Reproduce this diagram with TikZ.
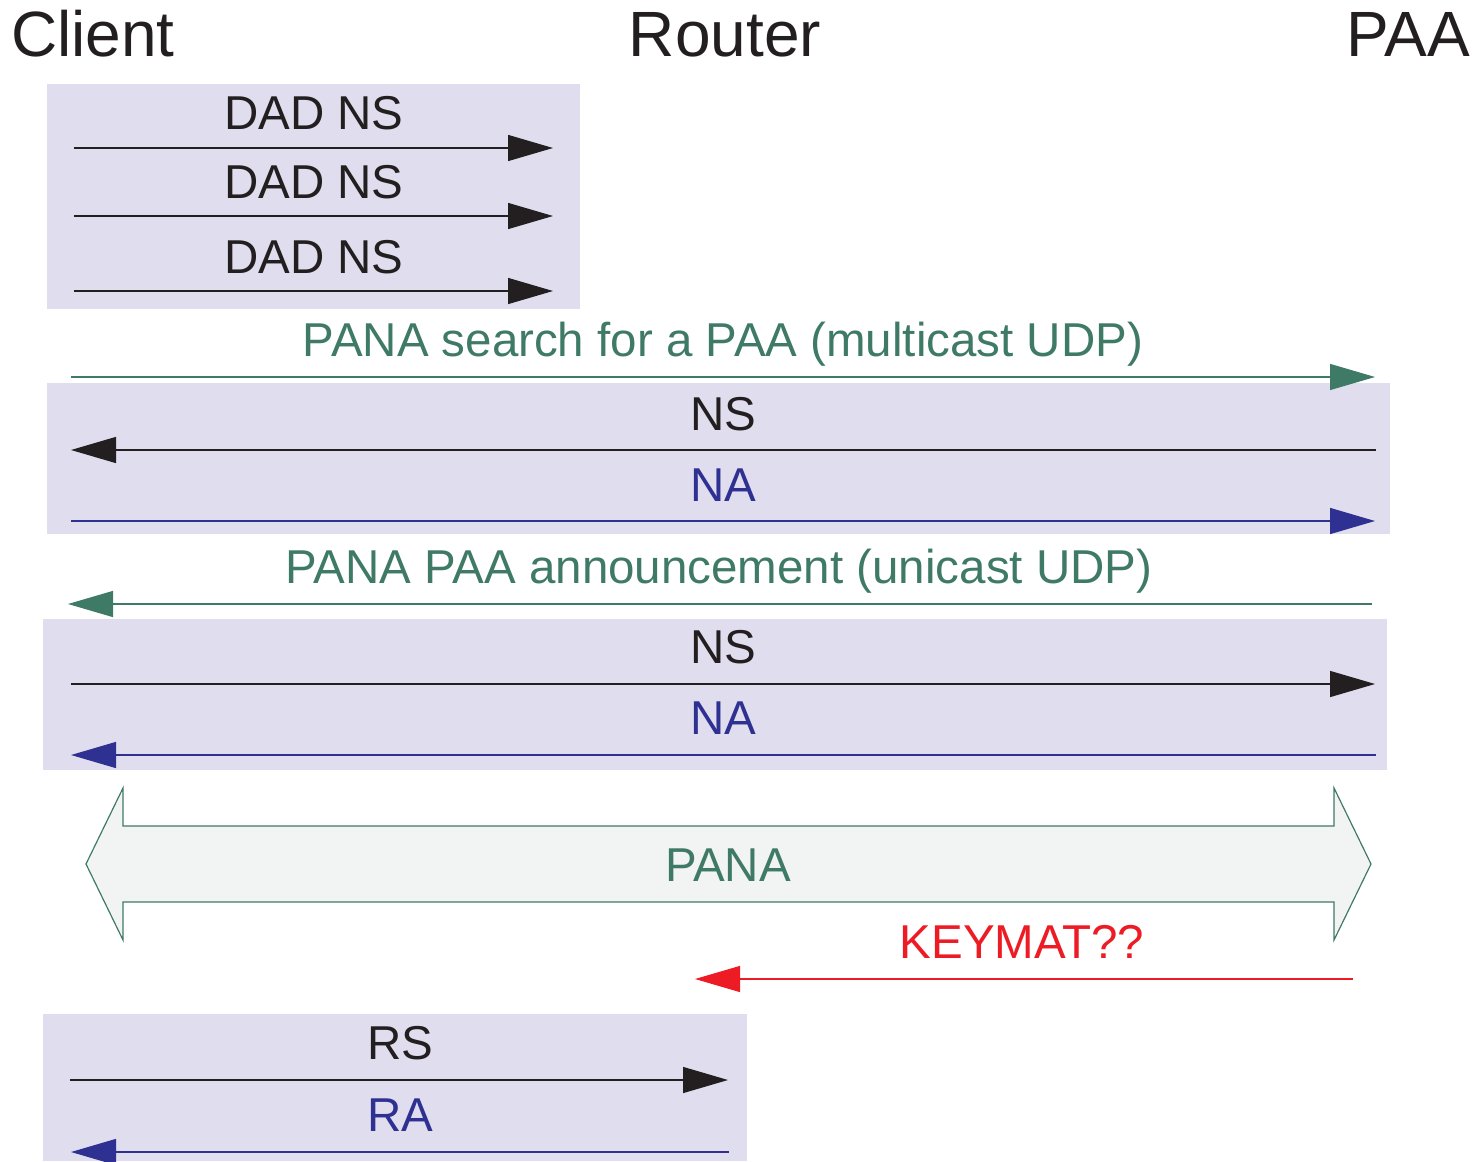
\documentclass[tikz,border=0pt]{standalone}
\usepackage{fontspec}
\setmainfont{Liberation Sans}
\usetikzlibrary{arrows.meta}
\definecolor{boxfill}{HTML}{E0DEEE}
\definecolor{ink}{HTML}{231F20}
\definecolor{pgreen}{HTML}{3F7A66}
\definecolor{pblue}{HTML}{2E3192}
\definecolor{pred}{HTML}{ED1C24}
\definecolor{panafill}{HTML}{F2F4F3}
\tikzset{
  group/.style={fill=boxfill, draw=none},
  msg/.style={line width=1.4pt, -{Triangle[length=45pt,width=26pt]}},
  lbl/.style={anchor=base, inner sep=0pt, font=\fontsize{47.5}{52}\selectfont},
  ttl/.style={anchor=base, inner sep=0pt, font=\fontsize{64}{68}\selectfont, text=ink},
}
\begin{document}
\begin{tikzpicture}[x=1pt, y=-1pt]
\useasboundingbox (0,0) rectangle (1479,1161);

% entity headers
\node[ttl, anchor=base west] (client) at (11,57) {Client};
\node[ttl] (router) at (725,57) {Router};
\node[ttl, anchor=base east] (paa) at (1470,57) {PAA};

% grouped exchanges
\fill[group] (47,84) rectangle (580,309);
\fill[group] (47,383) rectangle (1390,534);
\fill[group] (43,619) rectangle (1387,770);
\fill[group] (43,1014) rectangle (747,1161);

% duplicate address detection
\coordinate (d1a) at (74,148); \coordinate (d1b) at (553,148);
\coordinate (d2a) at (74,216); \coordinate (d2b) at (553,216);
\coordinate (d3a) at (74,291); \coordinate (d3b) at (553,291);
\draw[msg, ink] (d1a) -- (d1b);
\draw[msg, ink] (d2a) -- (d2b);
\draw[msg, ink] (d3a) -- (d3b);
\node[lbl, text=ink] (l1) at (314,130) {DAD NS};
\node[lbl, text=ink] (l2) at (314,198) {DAD NS};
\node[lbl, text=ink] (l3) at (314,273) {DAD NS};

% PAA discovery
\coordinate (s1a) at (71,377); \coordinate (s1b) at (1375,377);
\draw[msg, draw=pgreen, fill=pgreen, line width=1.2pt] (s1a) -- (s1b);
\node[lbl, text=pgreen] (l4) at (723,356) {PANA search for a PAA (multicast UDP)};

\coordinate (n1a) at (1376,450); \coordinate (n1b) at (71,450);
\draw[msg, ink] (n1a) -- (n1b);
\node[lbl, text=ink] (l5) at (723,430) {NS};
\coordinate (a1a) at (71,521); \coordinate (a1b) at (1375,521);
\draw[msg, pblue] (a1a) -- (a1b);
\node[lbl, text=pblue] (l6) at (723,501) {NA};

\coordinate (s2a) at (1372,604); \coordinate (s2b) at (68,604);
\draw[msg, draw=pgreen, fill=pgreen, line width=1.2pt] (s2a) -- (s2b);
\node[lbl, text=pgreen] (l7) at (719,583) {PANA PAA announcement (unicast UDP)};

\coordinate (n2a) at (71,684); \coordinate (n2b) at (1375,684);
\draw[msg, ink] (n2a) -- (n2b);
\node[lbl, text=ink] (l8) at (723,663) {NS};
\coordinate (a2a) at (1376,755); \coordinate (a2b) at (71,755);
\draw[msg, pblue] (a2a) -- (a2b);
\node[lbl, text=pblue] (l9) at (723,734) {NA};

% PANA authentication
\draw[pgreen, fill=panafill, line width=1.2pt, line join=miter]
  (86,864) -- (123,788) -- (123,826) -- (1334,826) -- (1334,788)
  -- (1371,864) -- (1334,940) -- (1334,902) -- (123,902) -- (123,940) -- cycle;
\node[lbl, text=pgreen] (l10) at (728,881) {PANA};

% key material to router
\coordinate (k1a) at (1353,979); \coordinate (k1b) at (695,979);
\draw[msg, draw=pred, fill=pred, line width=1.2pt] (k1a) -- (k1b);
\node[lbl, text=pred] (l11) at (1022,958) {KEYMAT??};

% router discovery
\coordinate (r1a) at (70,1080); \coordinate (r1b) at (728,1080);
\draw[msg, ink] (r1a) -- (r1b);
\node[lbl, text=ink] (l12) at (400,1059) {RS};
\coordinate (r2a) at (729,1152); \coordinate (r2b) at (71,1152);
\draw[msg, pblue] (r2a) -- (r2b);
\node[lbl, text=pblue] (l13) at (400,1131) {RA};
\end{tikzpicture}
\end{document}
